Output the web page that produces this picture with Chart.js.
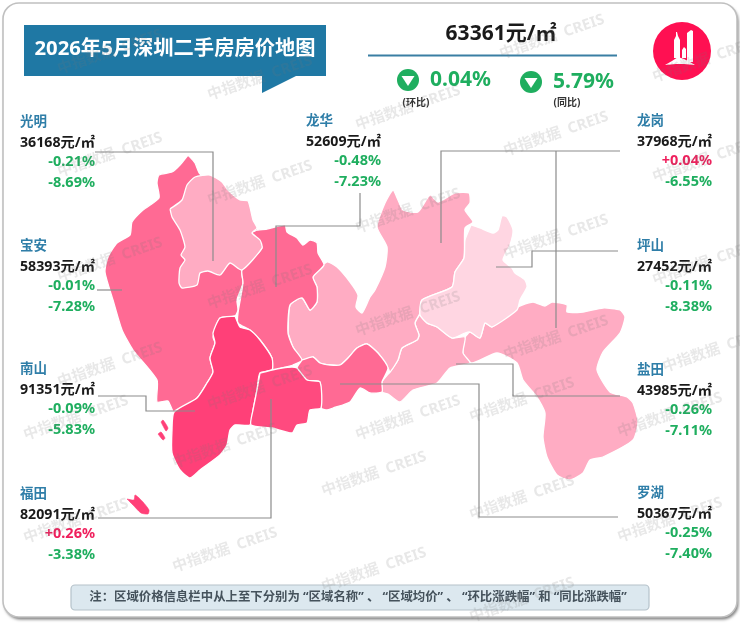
<!DOCTYPE html>
<html><head><meta charset="utf-8">
<style>html,body{margin:0;padding:0;background:#fff}canvas{display:block}</style>
<script src="https://cdn.jsdelivr.net/npm/chart.js@4/dist/chart.umd.min.js"></script>
</head><body><canvas id="c" width="740" height="623"></canvas>
<script>
const districts=["光明","龙华","龙岗","宝安","坪山","南山","盐田","福田","罗湖"];
const prices=[36168,52609,37968,58393,27452,91351,43985,82091,50367];
const momChanges=["-0.21%","-0.48%","+0.04%","-0.01%","-0.11%","-0.09%","-0.26%","+0.26%","-0.25%"];
const yoyChanges=["-8.69%","-7.23%","-6.55%","-7.28%","-8.38%","-5.83%","-7.11%","-3.38%","-7.40%"];
const titleText="2026年5月深圳二手房房价地图";
const cityPrice="63361元/㎡";
const cityMom="0.04%";
const cityYoy="5.79%";
const noteText="注：区域价格信息栏中从上至下分别为 “区域名称” 、 “区域均价” 、 “环比涨跌幅” 和 “同比涨跌幅”";
const watermarkText="中指数据  CREIS";

// map outlines, in map units
const guangming=[[170,209],[182,200],[187,185],[195,177],[210,175],[222,182],[228,190],[240,200],[248,201],[253,220],[257,228],[252,233],[260,240],[262,248],[242,270],[230,263],[220,275],[208,271],[200,273],[197,285],[182,288],[179,283],[180,268],[185,260],[181,255],[185,247],[180,230],[172,217],[170,209]];
const baoan=[[188,155],[195,163],[200,174],[228,190],[253,220],[262,248],[242,270],[243,283],[237,300],[238,310],[235,316],[220,318],[213,337],[215,343],[210,358],[213,372],[207,383],[197,398],[174,412],[168,401],[157,402],[157,380],[133,350],[122,330],[113,300],[105,272],[108,257],[117,243],[130,235],[132,222],[143,210],[159,198],[157,183],[159,175],[172,172],[180,165],[188,155]];
const longhua=[[257,230],[267,229],[285,225],[287,232],[297,238],[303,245],[310,240],[317,243],[318,253],[324,265],[313,277],[317,287],[317,302],[310,310],[302,298],[290,305],[288,333],[293,347],[302,360],[293,365],[282,368],[273,370],[272,358],[260,340],[250,330],[238,323],[238,313],[243,283],[242,270],[262,248],[252,233],[257,230]];
const nanshan=[[235,316],[220,318],[213,333],[215,343],[210,358],[213,372],[207,383],[197,398],[174,412],[172,430],[172,453],[180,470],[190,478],[200,470],[220,455],[227,445],[230,430],[235,425],[250,425],[253,410],[257,390],[260,373],[272,370],[272,358],[260,340],[250,330],[240,327],[235,316]];
const futian=[[260,373],[272,370],[282,368],[292,367],[297,368],[307,380],[320,382],[321,408],[310,410],[307,423],[297,425],[292,433],[272,428],[251,425],[253,410],[257,390],[260,373]];
const luohu=[[302,360],[313,357],[320,363],[330,365],[340,365],[348,358],[357,348],[367,344],[378,353],[388,368],[382,382],[382,392],[370,393],[360,388],[350,402],[333,408],[327,410],[321,408],[320,382],[307,380],[297,368],[302,360]];
const longgang=[[288,333],[290,305],[302,298],[310,310],[317,302],[317,287],[313,277],[327,262],[337,267],[350,282],[358,295],[356,307],[362,313],[370,297],[375,290],[385,267],[387,247],[377,227],[385,203],[393,190],[398,200],[403,210],[418,212],[430,195],[438,202],[455,193],[469,193],[470,203],[465,210],[473,222],[465,228],[464,258],[455,272],[452,287],[422,300],[420,313],[415,323],[419,335],[417,340],[402,348],[398,360],[390,372],[388,368],[378,353],[367,344],[357,348],[348,358],[340,365],[330,365],[320,363],[313,357],[302,360],[293,347],[288,333]];
const pingshan=[[471,225],[465,240],[464,258],[455,272],[452,287],[422,300],[420,315],[427,323],[437,327],[452,338],[465,333],[470,332],[480,338],[485,323],[492,327],[517,310],[520,300],[527,287],[525,280],[515,273],[512,268],[503,260],[510,245],[513,230],[507,217],[502,216],[498,230],[493,233],[480,228],[471,225]];
const yantian=[[390,372],[382,382],[382,392],[388,394],[400,402],[413,390],[437,383],[450,368],[470,363],[463,353],[465,337],[452,338],[437,327],[427,323],[420,315],[415,323],[419,335],[417,340],[402,348],[398,360],[390,372]];
const dapeng=[[465,337],[470,332],[480,338],[485,323],[492,327],[518,307],[533,302],[545,306],[552,302],[567,305],[567,312],[583,312],[603,308],[620,310],[625,317],[620,333],[603,352],[597,370],[610,392],[627,397],[633,403],[638,422],[633,440],[603,457],[590,460],[583,473],[570,480],[557,475],[547,457],[543,437],[545,413],[537,397],[523,380],[517,363],[497,353],[472,363],[463,353],[465,337]];
const islandA=[[161,422],[163,420],[168,428],[166,431],[161,422]];
const islandB=[[158,434],[161,432],[165,438],[163,440],[158,434]];
const islandC=[[127,499],[134,500],[135,495],[138,497],[143,502],[149,510],[148,514],[141,513],[133,505],[127,499]];

// leader lines
const leaderGuangming=[[95,152],[213,152],[213,261]];
const leaderLonghua=[[360,193],[360,226],[276,226],[276,287]];
const leaderLonggangA=[[620,151],[441,151],[441,243]];
const leaderLonggangB=[[556,151],[556,328]];
const leaderBaoan=[[97,290],[122,290]];
const leaderPingshan=[[618,251],[532,251],[532,267],[496,267]];
const leaderNanshan=[[98,396],[146,396],[146,411],[195,411]];
const leaderYantian=[[620,396],[513,396],[513,364],[456,364]];
const leaderFutian=[[98,518],[271,518],[271,399]];
const leaderLuohu=[[618,517],[479,517],[479,384],[340,384]];

const watermarks=[[110,52],[260,78],[408,108],[552,37],[705,60],[110,155],[260,183],[408,211],[556,134],[705,160],[110,260],[260,287],[408,314],[556,237],[705,263],[110,365],[260,388],[408,418],[556,338],[715,350],[76,418],[225,446],[374,474],[522,400],[670,415],[76,521],[522,498],[670,520],[374,570],[225,550],[522,600]];

const pts=a=>a.map(p=>({x:p[0],y:p[1]}));
const area=(d,c)=>({data:pts(d),showLine:true,fill:'shape',backgroundColor:c,borderColor:'#fff',borderWidth:1.3,pointRadius:0,tension:0.2});
const isle=(d,c)=>({data:pts(d),showLine:true,fill:'shape',backgroundColor:c,borderColor:c,borderWidth:0.6,pointRadius:0,tension:0.2});
const leader=d=>({data:pts(d),showLine:true,fill:false,borderColor:'#8c8c8c',borderWidth:1.2,pointRadius:0,tension:0});

const FONT='"Noto Sans","Noto Sans CJK SC",sans-serif';
const GREEN='#1fae5f',RED='#ef1f5c',BLUE='#2f7ea8',INK='#1a1a1a';

const blocks=[[20,121],[306,120],[637,120],[20,245],[637,245],[20,368],[637,369],[20,493],[637,492]];

const pagePlugin={
 id:'page',
 beforeDraw(ch){
  const g=ch.ctx;const X=v=>ch.scales.x.getPixelForValue(v),Y=v=>ch.scales.y.getPixelForValue(v);
  g.save();
  g.fillStyle='#fff';g.fillRect(0,0,740,623);
  // frame
  g.save();g.shadowColor='rgba(0,0,0,.5)';g.shadowBlur=3;g.shadowOffsetX=1.5;g.shadowOffsetY=2.5;
  g.beginPath();g.roundRect(X(3),Y(3),734,614,16);g.fillStyle='#fff';g.fill();g.restore();
  g.beginPath();g.roundRect(X(3),Y(3),734,614,16);g.strokeStyle='#c0c0c0';g.lineWidth=1.6;g.stroke();
  // banner
  g.fillStyle='#1f78a4';g.fillRect(X(24),Y(25),302,51);
  g.beginPath();g.moveTo(X(262),Y(75));g.lineTo(X(262),Y(93));g.lineTo(X(298),Y(75));g.closePath();g.fill();
  g.textBaseline='middle';g.textAlign='center';
  g.fillStyle='#fff';g.font='bold 20.3px '+FONT;g.fillText(titleText,X(175),Y(49));
  // headline
  g.fillStyle=INK;g.font='bold 21px '+FONT;g.fillText(cityPrice,X(501),Y(34));
  g.strokeStyle='#3a7fa3';g.lineWidth=2;g.beginPath();g.moveTo(X(368),Y(55.5));g.lineTo(X(617),Y(55.5));g.stroke();
  [[408,80],[531,82]].forEach(c=>{
    g.fillStyle=GREEN;g.beginPath();g.arc(X(c[0]),Y(c[1]),11,0,7);g.fill();
    g.fillStyle='#fff';g.beginPath();g.moveTo(X(c[0]-6.5),Y(c[1]-4));g.lineTo(X(c[0]+6.5),Y(c[1]-4));g.lineTo(X(c[0]),Y(c[1]+6));g.closePath();g.fill();
  });
  g.fillStyle=GREEN;g.font='bold 21px '+FONT;g.textAlign='left';
  g.fillText(cityMom,X(430),Y(80));g.fillText(cityYoy,X(553),Y(82));
  g.fillStyle='#333';g.font='bold 10px '+FONT;g.textAlign='center';
  g.fillText('(环比)',X(416),Y(103));g.fillText('(同比)',X(567),Y(103));
  // logo
  g.fillStyle='#ff1052';g.beginPath();g.arc(X(682),Y(51),29,0,7);g.fill();
  g.fillStyle='#fff';
  const poly=a=>{g.beginPath();a.forEach((p,i)=>i?g.lineTo(X(p[0]),Y(p[1])):g.moveTo(X(p[0]),Y(p[1])));g.closePath();g.fill();};
  poly([[674,58],[674,40],[676,36],[676,32],[677,32],[678,36],[680,40],[680,58]]);
  poly([[687,58],[687,33],[691,30],[693,31],[693,62],[687,62]]);
  poly([[682,58],[682,50],[684,47],[686,49],[686,58]]);
  poly([[665,65],[672,61],[678,57],[684,59],[690,62],[695,65],[684,64],[676,64]]);
  g.restore();
 },
 afterDatasetsDraw(ch){
  const g=ch.ctx;const X=v=>ch.scales.x.getPixelForValue(v),Y=v=>ch.scales.y.getPixelForValue(v);
  g.save();g.textBaseline='middle';
  // district panels
  districts.forEach((d,i)=>{
    const [x,y]=blocks[i];
    g.textAlign='left';
    g.fillStyle=BLUE;g.font='bold 13.5px '+FONT;g.fillText(d,X(x),Y(y+1));
    g.fillStyle=INK;g.font='bold 14.2px '+FONT;g.fillText(prices[i]+'元/㎡',X(x),Y(y+22));
    g.textAlign='right';g.font='bold 14.5px '+FONT;
    g.fillStyle=momChanges[i][0]==='+'?RED:GREEN;g.fillText(momChanges[i],X(x+75),Y(y+41));
    g.fillStyle=yoyChanges[i][0]==='+'?RED:GREEN;g.fillText(yoyChanges[i],X(x+75),Y(y+62));
  });
  // note
  g.beginPath();g.roundRect(X(71),Y(585),578,25,4);g.fillStyle='#dce8ef';g.fill();g.strokeStyle='#b5c2ca';g.lineWidth=1.2;g.stroke();
  g.fillStyle='#45525c';g.font='bold 12.4px '+FONT;g.textAlign='center';g.fillText(noteText,X(358),Y(597));
  // watermark
  g.font='bold 15px '+FONT;g.fillStyle='rgba(120,120,120,.17)';
  watermarks.forEach(w=>{
    g.save();g.translate(X(w[0]),Y(w[1]));g.rotate(-19*Math.PI/180);g.fillText(watermarkText,0,0);g.restore();
  });
  g.restore();
 }
};

new Chart(document.getElementById('c'),{
 type:'scatter',
 data:{datasets:[
  leader(leaderGuangming),leader(leaderLonghua),leader(leaderLonggangA),leader(leaderLonggangB),leader(leaderBaoan),leader(leaderPingshan),leader(leaderNanshan),leader(leaderYantian),leader(leaderFutian),leader(leaderLuohu),
  area(guangming,'#ffacc3'),area(pingshan,'#ffd6e2'),area(futian,'#ff4a7f'),area(nanshan,'#ff4078'),area(luohu,'#ff6a94'),area(longhua,'#ff6a94'),area(baoan,'#ff6a94'),area(longgang,'#ffacc3'),area(yantian,'#ffacc3'),area(dapeng,'#ffacc3'),
  isle(islandA,'#ff4078'),isle(islandB,'#ff4078'),isle(islandC,'#ff4078')
 ]},
 options:{responsive:false,animation:false,devicePixelRatio:1,layout:{padding:0},
  plugins:{legend:{display:false},tooltip:{enabled:false},title:{display:false}},
  elements:{line:{capBezierPoints:true}},
  scales:{x:{type:'linear',display:false,min:0,max:740},y:{type:'linear',display:false,min:0,max:623,reverse:true}}},
 plugins:[pagePlugin]
});
</script></body></html>
